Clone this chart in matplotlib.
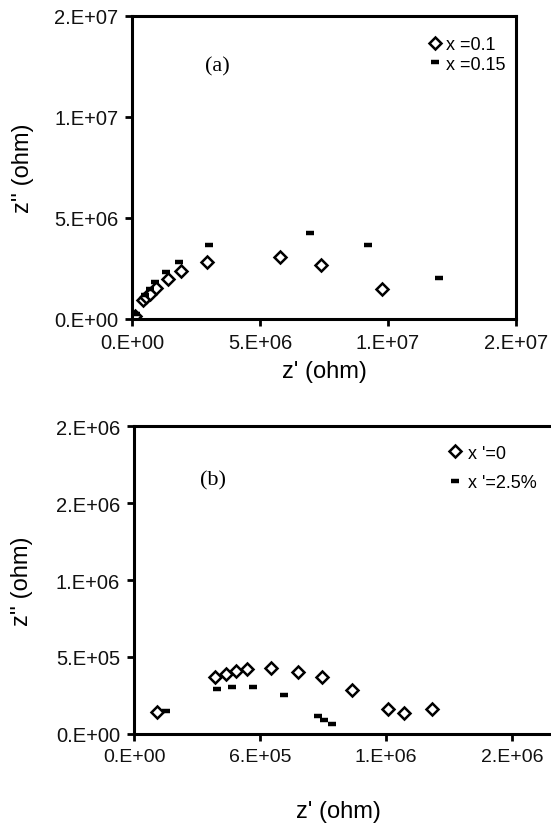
import matplotlib
matplotlib.use("Agg")
import matplotlib.pyplot as plt
from matplotlib.ticker import FuncFormatter, MultipleLocator

plt.rcParams['font.family'] = ['Liberation Sans', 'DejaVu Sans']

# panel (a): x = 0.1 (diamonds) and x = 0.15 (dashes)
a_x01_re = [0.10e6, 0.43e6, 0.56e6, 0.69e6, 0.95e6, 1.41e6, 1.90e6, 2.93e6, 5.77e6, 7.40e6, 9.77e6]
a_x01_im = [0.16e6, 0.94e6, 1.07e6, 1.24e6, 1.52e6, 1.98e6, 2.39e6, 2.84e6, 3.05e6, 2.69e6, 1.47e6]
a_x015_re = [0.17e6, 0.50e6, 0.69e6, 0.89e6, 1.34e6, 1.84e6, 3.01e6, 6.94e6, 9.22e6, 11.98e6]
a_x015_im = [0.25e6, 1.20e6, 1.49e6, 1.82e6, 2.31e6, 2.84e6, 3.66e6, 4.26e6, 3.66e6, 2.04e6]

# panel (b): x' = 0 (diamonds) and x' = 2.5% (dashes)
b_x0_re = [1.08e5, 3.86e5, 4.38e5, 4.84e5, 5.40e5, 6.51e5, 7.83e5, 8.94e5, 10.4e5, 12.08e5, 12.86e5, 14.2e5]
b_x0_im = [1.45e5, 3.67e5, 3.89e5, 4.11e5, 4.19e5, 4.30e5, 4.00e5, 3.67e5, 2.87e5, 1.63e5, 1.37e5, 1.65e5]
b_x25_re = [1.51e5, 3.97e5, 4.65e5, 5.68e5, 7.16e5, 8.78e5, 9.06e5, 9.44e5]
b_x25_im = [1.52e5, 2.93e5, 3.04e5, 3.04e5, 2.52e5, 1.19e5, 0.89e5, 0.67e5]
b_xticks = [0, 6e5, 1.2e6, 1.8e6]

fmt = FuncFormatter(lambda v, p: '%#.0E' % v)


def style_axes(ax, xmax, xstep, ymax, ystep):
    ax.set_xlim(0, xmax)
    ax.set_ylim(0, ymax)
    ax.xaxis.set_major_locator(MultipleLocator(xstep))
    ax.yaxis.set_major_locator(MultipleLocator(ystep))
    ax.xaxis.set_major_formatter(fmt)
    ax.yaxis.set_major_formatter(fmt)
    for s in ax.spines.values():
        s.set_linewidth(2.2)
    ax.tick_params(direction='out', length=5, width=2, labelsize=14.5,
                   labelcolor='#111111', pad=5)
    ax.set_xlabel("z' (ohm)", fontsize=17, labelpad=6)
    ax.set_ylabel("z'' (ohm)", fontsize=17, labelpad=14)


fig = plt.figure(figsize=(5.51, 8.29), dpi=100)

ax1 = fig.add_axes([0.2396, 0.614, 0.6969, 0.3655])
ax1.plot(a_x01_re, a_x01_im, 'D', ms=6.5, mfc='white', mec='black', mew=1.8,
         linestyle='none', label='x =0.1')
ax1.plot(a_x015_re, a_x015_im, '_', ms=6, mec='black', mew=3.2,
         linestyle='none', label='x =0.15')
style_axes(ax1, 1.5e7, 5e6, 1.5e7, 5e6)
ax1.text(0.19, 0.82, '(a)', transform=ax1.transAxes, fontsize=16,
         family='Liberation Serif')
ax1.legend(loc='upper right', bbox_to_anchor=(1.0, 0.97), frameon=False,
           fontsize=13, handlelength=0.6, handletextpad=0.3, labelspacing=0.15,
           borderaxespad=0.2)

# the right part of panel (b) is cropped off by the figure edge
ax2 = fig.add_axes([0.2432, 0.1134, 0.9147, 0.3715])
ax2.plot(b_x0_re, b_x0_im, 'D', ms=6.5, mfc='white', mec='black', mew=1.8,
         linestyle='none', label="x '=0")
ax2.plot(b_x25_re, b_x25_im, '_', ms=6, mec='black', mew=3.2,
         linestyle='none', label="x '=2.5%")
style_axes(ax2, 2.4e6, 6e5, 2.0e6, 5e5)
ax2.set_xticks(b_xticks)
ax2.tick_params(axis='x', labelsize=14)
ax2.yaxis.set_label_coords(-0.2, 0.5)
ax2.text(0.13, 0.81, '(b)', transform=ax2.transAxes, fontsize=16,
         family='Liberation Serif')
ax2.legend(loc='upper left', bbox_to_anchor=(0.605, 0.975), frameon=False,
           fontsize=13, handlelength=0.6, handletextpad=0.4, labelspacing=0.7,
           borderaxespad=0.2)
ax2.xaxis.set_label_coords(0.405, -0.215)

fig.savefig('out.png', dpi=100)
